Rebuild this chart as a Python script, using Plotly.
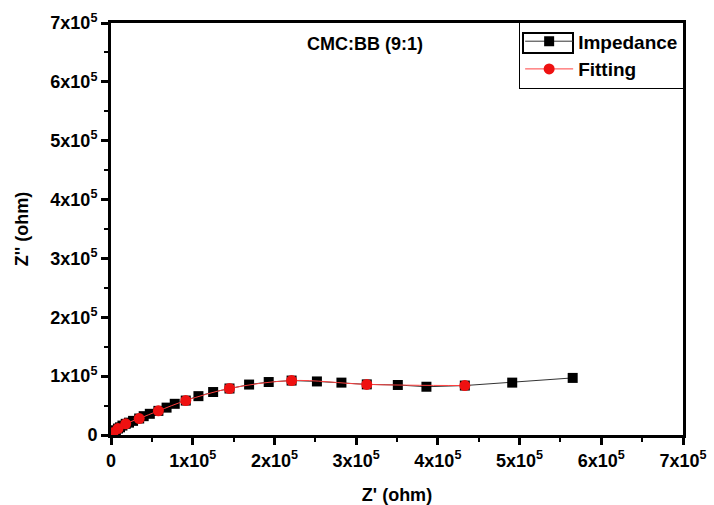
import plotly.graph_objects as go

# Impedance data (Z', Z'') in ohm
imp_x = [565000, 491000, 433000, 386000, 351000, 313000, 282000, 252000, 221000, 193000,
         169000, 145000, 125000, 107000, 91500, 78000, 68000, 58000, 47500, 40000,
         34500, 27000, 22000, 18000, 14000, 11000, 8500, 6000, 4000, 2500, 1500, 800, 400]
imp_y = [97000, 89000, 84000, 82000, 85000, 86000, 89000, 91000, 92500, 90000,
         85700, 79000, 73000, 66000, 58500, 53000, 46500, 41000, 36000, 32000,
         28000, 24000, 21000, 19000, 16000, 13000, 11000, 8000, 6000, 4000, 2500, 1500, 800]

# Fitting points
fit_x = [433000, 313000, 221000, 145000, 91500, 58000, 34500, 18000, 8500, 2500, 400]
fit_y = [84000, 86000, 92500, 79000, 58500, 41000, 28000, 19000, 11000, 4000, 800]

tick_vals = [0, 100000, 200000, 300000, 400000, 500000, 600000, 700000]
tick_text = ["0", "1x10<sup>5</sup>", "2x10<sup>5</sup>", "3x10<sup>5</sup>", "4x10<sup>5</sup>",
             "5x10<sup>5</sup>", "6x10<sup>5</sup>", "7x10<sup>5</sup>"]

FONT = "Liberation Sans, Arial, sans-serif"
L, R, T, B, W, H = 111, 31, 23, 70, 714, 505
PW, PH = W - L - R, H - T - B

fig = go.Figure()
fig.add_trace(go.Scatter(
    x=imp_x, y=imp_y, mode="lines+markers", name="<b>Impedance</b>",
    line=dict(color="#333333", width=1),
    marker=dict(symbol="square", size=10, color="black"),
))
fig.add_trace(go.Scatter(
    x=fit_x, y=fit_y, mode="lines+markers", name="<b>Fitting</b>",
    line=dict(color="#ff4040", width=1, shape="spline"),
    marker=dict(symbol="circle", size=11, color="#ee1111"),
))

axis_common = dict(
    range=[0, 700000], tickvals=tick_vals, ticktext=tick_text,
    showline=True, linecolor="black", linewidth=3, mirror=True,
    ticks="outside", ticklen=7, tickwidth=2.5, tickcolor="black",
    minor=dict(ticks="outside", ticklen=4, tickwidth=2, tickcolor="black", dtick=50000),
    showgrid=False, zeroline=False, automargin=False,
    tickfont=dict(family=FONT, size=18, color="black", weight="bold"),
)

def px_x(p):
    return (p - L) / PW

def px_y(p):
    return (H - B - p) / PH

fig.update_layout(
    width=W, height=H,
    margin=dict(l=L, r=R, t=T, b=B),
    paper_bgcolor="white", plot_bgcolor="white",
    font=dict(family=FONT, color="black"),
    xaxis=dict(**axis_common,
               title=dict(text="<b>Z' (ohm)</b>", font=dict(family=FONT, size=18), standoff=20)),
    yaxis=dict(**axis_common,
               title=dict(text="<b>Z'' (ohm)</b>", font=dict(family=FONT, size=18), standoff=18)),
    legend=dict(x=1.002, y=1.004, xanchor="right", yanchor="top",
                bordercolor="black", borderwidth=1, bgcolor="rgba(255,255,255,0)",
                font=dict(family=FONT, size=19, color="black"),
                tracegroupgap=0, itemwidth=48),
    showlegend=True,
    annotations=[dict(text="<b>CMC:BB (9:1)</b>", x=0.444, y=0.95, xref="paper", yref="paper",
                      xanchor="center", yanchor="middle", showarrow=False,
                      font=dict(family=FONT, size=18, color="black"))],
    shapes=[dict(type="rect", xref="paper", yref="paper",
                 x0=px_x(523), x1=px_x(573), y0=px_y(53), y1=px_y(33),
                 line=dict(color="black", width=2), fillcolor="rgba(0,0,0,0)", layer="above")],
)

fig.write_html("out.html")
